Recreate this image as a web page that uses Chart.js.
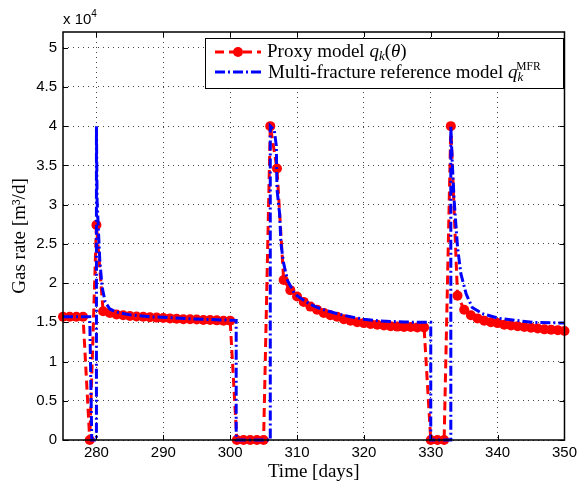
<!DOCTYPE html>
<html>
<head>
<meta charset="utf-8">
<script src="https://cdn.jsdelivr.net/npm/chart.js@4.4.1/dist/chart.umd.min.js"></script>
<style>
  html, body { margin: 0; padding: 0; background: #fff; }
</style>
</head>
<body>
<canvas id="rateChart" width="581" height="483"></canvas>
<script>
// proxy model, one sample per day
const PROXY_DAYS = [
  275, 276, 277, 278, 279, 280, 281, 282, 283, 284, 285, 286, 287, 288, 289,
  290, 291, 292, 293, 294, 295, 296, 297, 298, 299, 300, 301, 302, 303, 304,
  305, 306, 307, 308, 309, 310, 311, 312, 313, 314, 315, 316, 317, 318, 319,
  320, 321, 322, 323, 324, 325, 326, 327, 328, 329, 330, 331, 332, 333, 334,
  335, 336, 337, 338, 339, 340, 341, 342, 343, 344, 345, 346, 347, 348, 349,
  350
];
const PROXY_RATE = [
  15700, 15700, 15700, 15700, 0, 27400, 16400, 16200, 16000, 15900, 15800, 15750, 15700, 15650, 15600,
  15550, 15500, 15450, 15400, 15400, 15350, 15300, 15300, 15250, 15200, 15200, 0, 0, 0, 0,
  0, 40000, 34600, 20400, 19100, 18300, 17600, 17000, 16600, 16200, 15900, 15700, 15400, 15200, 15000,
  14900, 14800, 14700, 14600, 14500, 14450, 14400, 14400, 14350, 14350, 0, 0, 0, 40000, 18400,
  16600, 15900, 15500, 15200, 15000, 14900, 14700, 14600, 14500, 14400, 14300, 14200, 14100, 14050, 14000,
  13900
];

// multi-fracture reference run (finer time steps around shut-ins)
const MFR_DAYS = [
  275, 279, 279.3, 280, 280, 280.1, 280.5, 280.85, 281.3, 282, 283, 285, 288, 291, 294, 297, 300.9,
  300.9, 306, 306, 306.6, 306.9, 307, 307.4, 307.6, 308, 308.6, 309.6, 310, 311, 312, 313, 314, 316,
  318, 320, 322, 324, 326, 328, 330, 330, 333, 333, 333.25, 333.5, 334, 334.5, 335.3, 336.2, 337.7,
  340.2, 345.2, 350
];
const MFR_RATE = [
  15700, 15700, 0, 0, 40000, 30500, 22900, 19500, 17600, 16700, 16300, 15950, 15700, 15600, 15450, 15350, 15250,
  0, 0, 40000, 39500, 37500, 32000, 28800, 25000, 22500, 20300, 18700, 18400, 17800, 17300, 16900, 16600, 16100,
  15700, 15400, 15200, 15100, 15050, 15000, 15000, 0, 0, 40000, 34700, 30500, 24600, 21200, 18600, 16900, 16100,
  15500, 15000, 14900
];

const X_TICKS = [280, 290, 300, 310, 320, 330, 340, 350];
const Y_TICKS = [0, 5000, 10000, 15000, 20000, 25000, 30000, 35000, 40000, 45000, 50000];
const Y_TICK_LABELS = ['0', '0.5', '1', '1.5', '2', '2.5', '3', '3.5', '4', '4.5', '5'];

const SANS = "'Liberation Sans', Arial, sans-serif";
const SERIF = "'Liberation Serif', 'Times New Roman', serif";

const toPoints = (xs, ys) => xs.map((x, i) => ({ x, y: ys[i] }));

// draws a run of text pieces, each with its own font and baseline shift
function drawRuns(ctx, x, y, runs) {
  runs.forEach(r => {
    ctx.font = `${r.italic ? 'italic ' : ''}${r.size}px ${r.family || SERIF}`;
    ctx.fillText(r.text, x, y + (r.dy || 0));
    x += ctx.measureText(r.text).width + (r.after || 0);
  });
}

const frameAndLegend = {
  id: 'frameAndLegend',
  afterDraw(chart) {
    const { ctx, chartArea: a, scales: { x, y } } = chart;
    ctx.save();

    // box and inward ticks
    ctx.strokeStyle = '#000';
    ctx.lineWidth = 1.5;
    ctx.strokeRect(a.left, a.top, a.right - a.left, a.bottom - a.top);
    ctx.lineWidth = 1;
    ctx.beginPath();
    X_TICKS.forEach(v => {
      const px = Math.round(x.getPixelForValue(v)) + 0.5;
      ctx.moveTo(px, a.bottom); ctx.lineTo(px, a.bottom - 5);
      ctx.moveTo(px, a.top); ctx.lineTo(px, a.top + 5);
    });
    Y_TICKS.forEach(v => {
      const py = Math.round(y.getPixelForValue(v)) + 0.5;
      ctx.moveTo(a.left, py); ctx.lineTo(a.left + 5, py);
      ctx.moveTo(a.right, py); ctx.lineTo(a.right - 5, py);
    });
    ctx.stroke();

    // exponent label above the y axis
    ctx.fillStyle = '#000';
    ctx.textBaseline = 'alphabetic';
    ctx.textAlign = 'left';
    drawRuns(ctx, a.left, a.top - 8, [
      { text: 'x 10', size: 15, family: SANS },
      { text: '4', size: 10, family: SANS, dy: -7 }
    ]);

    // legend
    const lx = 205, ly = 38, lw = 358, lh = 50;
    ctx.fillStyle = '#fff';
    ctx.fillRect(lx, ly, lw, lh);
    ctx.strokeStyle = '#000';
    ctx.lineWidth = 1;
    ctx.strokeRect(lx + 0.5, ly + 0.5, lw, lh);

    const proxy = chart.data.datasets[1];
    const mfr = chart.data.datasets[0];
    ctx.lineWidth = 3;
    ctx.strokeStyle = proxy.borderColor;
    ctx.setLineDash(proxy.borderDash);
    ctx.beginPath(); ctx.moveTo(215, 52); ctx.lineTo(261, 52); ctx.stroke();
    ctx.setLineDash([]);
    ctx.fillStyle = proxy.pointBackgroundColor;
    ctx.beginPath(); ctx.arc(238, 52, 5, 0, Math.PI * 2); ctx.fill();

    ctx.strokeStyle = mfr.borderColor;
    ctx.setLineDash(mfr.borderDash);
    ctx.beginPath(); ctx.moveTo(215, 72); ctx.lineTo(261, 72); ctx.stroke();
    ctx.setLineDash([]);

    ctx.fillStyle = '#000';
    drawRuns(ctx, 267, 57, [
      { text: 'Proxy model ', size: 19 },
      { text: 'q', size: 19, italic: true },
      { text: 'k', size: 13, italic: true, dy: 3 },
      { text: '(', size: 19 },
      { text: 'θ', size: 19, italic: true },
      { text: ')', size: 19 }
    ]);
    drawRuns(ctx, 268, 78, [
      { text: 'Multi-fracture reference model ', size: 19 },
      { text: 'q', size: 19, italic: true },
      { text: 'k', size: 13, italic: true, dy: 3, after: -7 },
      { text: 'MFR', size: 11.5, dy: -8 }
    ]);
    ctx.restore();
  }
};

new Chart(document.getElementById('rateChart'), {
  type: 'line',
  data: {
    datasets: [
      {
        label: 'Multi-fracture reference model q_k^MFR',
        data: toPoints(MFR_DAYS, MFR_RATE),
        borderColor: '#0000ff',
        borderWidth: 3,
        borderDash: [10, 3, 2, 3],
        pointRadius: 0,
        tension: 0,
        clip: 6
      },
      {
        label: 'Proxy model q_k(θ)',
        data: toPoints(PROXY_DAYS, PROXY_RATE),
        borderColor: '#ff0000',
        borderWidth: 3,
        borderDash: [9, 5],
        pointRadius: 5,
        pointBackgroundColor: '#ff0000',
        pointBorderColor: '#ff0000',
        pointBorderWidth: 0,
        tension: 0,
        clip: 6
      }
    ]
  },
  options: {
    responsive: false,
    animation: false,
    layout: { padding: { top: 32, right: 15, left: 0, bottom: 0 } },
    plugins: { legend: { display: false }, tooltip: { enabled: false } },
    scales: {
      x: {
        type: 'linear',
        min: 275,
        max: 350,
        afterFit: s => { s.height = 43; },
        afterBuildTicks: s => { s.ticks = X_TICKS.map(v => ({ value: v })); },
        grid: { color: '#444', lineWidth: 1, drawTicks: false },
        border: { display: false, dash: [1, 4] },
        ticks: { color: '#000', font: { family: SANS, size: 15 }, padding: 4, maxRotation: 0, autoSkip: false },
        title: { display: true, text: 'Time [days]', color: '#000', font: { family: SERIF, size: 19 }, padding: { top: 0, bottom: 0 } }
      },
      y: {
        min: 0,
        max: 52000,
        afterFit: s => { s.width = 63; },
        afterBuildTicks: s => { s.ticks = Y_TICKS.map(v => ({ value: v })); },
        grid: { color: '#444', lineWidth: 1, drawTicks: false },
        border: { display: false, dash: [1, 4] },
        ticks: {
          color: '#000', font: { family: SANS, size: 15 }, padding: 6, autoSkip: false,
          callback: (v, i) => Y_TICK_LABELS[i]
        },
        title: { display: true, text: 'Gas rate [m³/d]', color: '#000', font: { family: SERIF, size: 19 }, padding: { top: 9, bottom: 0 } }
      }
    }
  },
  plugins: [frameAndLegend]
});
</script>
</body>
</html>
